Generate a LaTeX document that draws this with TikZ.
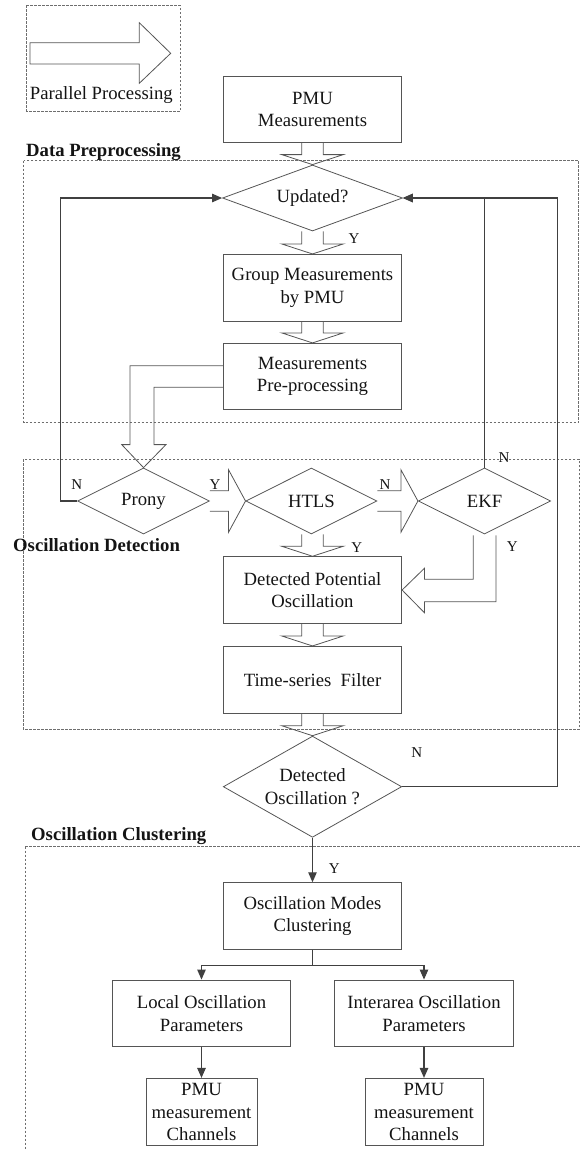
\documentclass[tikz,border=0pt]{standalone}
\usepackage{fontspec}
\setmainfont{Liberation Serif}
\usetikzlibrary{arrows.meta,calc,shapes.geometric}
\definecolor{lineC}{RGB}{64,64,64}
\definecolor{boxC}{RGB}{85,85,85}
\definecolor{dashC}{RGB}{110,110,110}
\definecolor{txtC}{RGB}{20,20,20}
\newcommand{\vhol}[2]{\draw[hollow] ($(#1)+(-10.8,0)$) -- ($(#2)+(-10.8,-10)$) -- ($(#2)+(-30.8,-10)$) -- (#2) -- ($(#2)+(30.8,-10)$) -- ($(#2)+(10.8,-10)$) -- ($(#1)+(10.8,0)$);}
\newcommand{\hhol}[2]{\draw[hollow] ($(#1)+(0,-10.2)$) -- ($(#2)+(-17,-10.2)$) -- ($(#2)+(-17,-31.3)$) -- (#2) -- ($(#2)+(-17,31.3)$) -- ($(#2)+(-17,10.2)$) -- ($(#1)+(0,10.2)$);}
\begin{document}
\begin{tikzpicture}[x=1pt,y=-1pt,
  font=\fontsize{18.7pt}{22.6pt}\selectfont,
  proc/.style={draw=boxC, line width=0.8pt, rectangle, minimum width=178.4pt, minimum height=66.7pt, inner sep=0pt, align=center, text=txtC},
  dec/.style={draw=boxC, line width=0.8pt, diamond, inner sep=0pt, align=center, text=txtC},
  hollow/.style={draw=boxC, line width=0.8pt, line join=miter},
  conn/.style={draw=lineC, line width=1.1pt},
  arr/.style={conn, -{Triangle[length=10pt,width=8.5pt]}},
  region/.style={draw=dashC, line width=0.6pt, dash pattern=on 2.5pt off 1.5pt},
  title/.style={font=\fontsize{18.7pt}{22.6pt}\selectfont\bfseries, anchor=base west, inner sep=0pt, text=txtC},
  lbl/.style={font=\fontsize{15pt}{18pt}\selectfont, inner sep=0pt, text=txtC}]
\useasboundingbox (0,0) rectangle (580,1149);
\clip (0,0) rectangle (580,1149);

% legend
\draw[region] (26.7,5.3) rectangle (180,111);
\draw[hollow] (30,42.7) -- (139.3,42.7) -- (139.3,22.7) -- (170.7,53.3) -- (139.3,83.3) -- (139.3,64) -- (30,64) -- cycle;
\node[anchor=base, inner sep=0pt, text=txtC] (legtxt) at (101.3,99.7) {Parallel Processing};

% regions
\draw[region] (23.5,160.7) rectangle (578.5,422.7);
\draw[region] (23.3,459) rectangle (579,729.3);
\draw[region] (25,846.7) rectangle (585,1170);
\node[title] (t1) at (26,156.7) {Data Preprocessing};
\node[title] (t2) at (13,551.5) {Oscillation Detection};
\node[title] (t3) at (31,840.5) {Oscillation Clustering};

% nodes
\node[proc] (pmu) at (312.5,109.3) {PMU\\Measurements};
\node[dec, minimum width=180pt, minimum height=66pt, aspect=2.7] (upd) at (312.5,198) {Updated?};
\node[proc] (grp) at (312.5,287.7) {Group Measurements\\by PMU};
\node[proc, minimum height=66pt] (meas) at (312.5,376.3) {Measurements\\Pre-processing};
\node[dec, minimum width=132pt, minimum height=66pt, aspect=2] (prony) at (143.5,501) {Prony};
\node[dec, minimum width=131pt, minimum height=66pt, aspect=2] (htls) at (311.4,501) {HTLS};
\node[dec, minimum width=132.4pt, minimum height=66pt, aspect=2] (ekf) at (484.5,501) {EKF};
\node[proc] (detpot) at (312.5,590) {Detected Potential\\Oscillation};
\node[proc] (tsf) at (312.5,679.7) {Time-series~ Filter};
\node[dec, minimum width=178.4pt, minimum height=101.2pt, aspect=1.76] (detosc) at (312.5,786.7) {Detected\\Oscillation ?};
\node[proc] (modes) at (312.5,916) {Oscillation Modes\\Clustering};
\node[proc] (local) at (201.5,1013.3) {Local Oscillation\\Parameters};
\node[proc] (inter) at (424,1013.3) {Interarea Oscillation\\Parameters};
\node[proc, minimum width=111pt, minimum height=67.4pt] (pmu1) at (201.5,1112) {PMU\\measurement\\Channels};
\node[proc, minimum width=118pt, minimum height=67.4pt] (pmu2) at (424,1112) {PMU\\measurement\\Channels};

% hollow (parallel) arrows
\vhol{pmu.south}{upd.north}
\vhol{upd.south}{grp.north}
\vhol{grp.south}{meas.north}
\coordinate (hs) at (htls.south -| detpot.north);
\vhol{hs}{detpot.north}
\vhol{detpot.south}{tsf.north}
\vhol{tsf.south}{detosc.north}
\hhol{prony.east}{htls.west}
\hhol{htls.east}{ekf.west}
\draw[hollow] ($(meas.west)+(0,-10.5)$) -| ($(prony.north)+(-13.5,-23)$) -- ($(prony.north)+(-21.8,-23)$) -- (prony.north) -- ($(prony.north)+(22.5,-23)$) -- ($(prony.north)+(10.5,-23)$) |- ($(meas.west)+(0,11)$);
\draw[hollow] ($(ekf.south)+(-11.2,1)$) |- ($(detpot.east)+(22.3,-10.7)$) -- ($(detpot.east)+(22.3,-21.7)$) -- (detpot.east) -- ($(detpot.east)+(22.3,22.7)$) -- ($(detpot.east)+(22.3,11.7)$) -| ($(ekf.south)+(11.5,1)$);

% connectors
\draw[arr] (prony.west) -- ++(-16.3,0) |- (upd.west);
\draw[arr] (ekf.north) |- (upd.east);
\draw[arr] (detosc.east) -- ++(155,0) |- (upd.east);
\draw[arr] (detosc.south) -- (modes.north);
\draw[conn] (modes.south) -- ++(0,16) coordinate (br);
\draw[arr] (br) -| (local.north);
\draw[arr] (br) -| (inter.north);
\draw[arr] (local.south) -- (pmu1.north);
\draw[arr] (inter.south) -- (pmu2.north);

% labels
\node[lbl] (l1) at (354,239) {Y};
\node[lbl] (l2) at (76.7,485) {N};
\node[lbl] (l3) at (215,485) {Y};
\node[lbl] (l4) at (385,485) {N};
\node[lbl] (l5) at (504,457.3) {N};
\node[lbl] (l6) at (356.7,547.3) {Y};
\node[lbl] (l7) at (512.3,546.7) {Y};
\node[lbl] (l8) at (416.7,752.7) {N};
\node[lbl] (l9) at (334.3,868.3) {Y};
\end{tikzpicture}
\end{document}
